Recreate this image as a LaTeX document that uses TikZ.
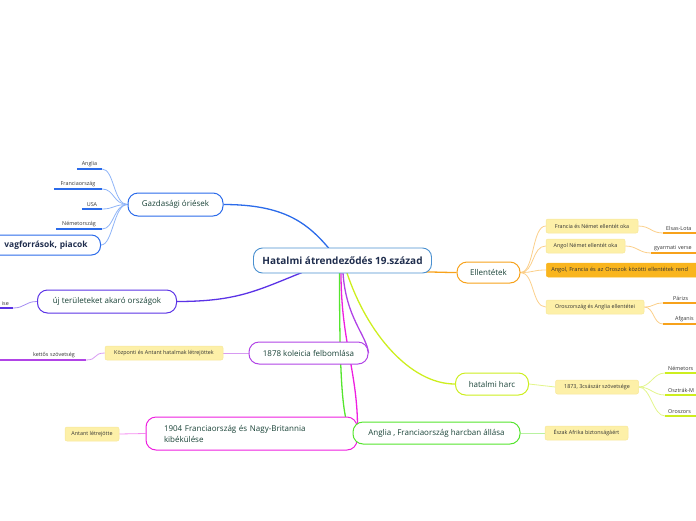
\documentclass[tikz,border=0pt]{standalone}
\usepackage{fontspec}
\setmainfont{Open Sans}
\usetikzlibrary{backgrounds}
\definecolor{hubB}{HTML}{4A90D0}
\definecolor{blueC}{HTML}{2B6BEA}
\definecolor{blueL}{HTML}{8FB4F7}
\definecolor{violetC}{HTML}{5B33E6}
\definecolor{violetL}{HTML}{A48CF2}
\definecolor{purpC}{HTML}{B144E6}
\definecolor{purpL}{HTML}{D79AF2}
\definecolor{magC}{HTML}{EE1FE0}
\definecolor{magL}{HTML}{F58CF0}
\definecolor{greenC}{HTML}{55E52E}
\definecolor{greenL}{HTML}{B8F2A0}
\definecolor{ygC}{HTML}{CDEE1F}
\definecolor{ygL}{HTML}{E2F58A}
\definecolor{orC}{HTML}{F7A21B}
\definecolor{orL}{HTML}{FBCF8A}
\definecolor{yFill}{HTML}{FDF0A8}
\definecolor{yDraw}{HTML}{F7E79A}
\definecolor{oFill}{HTML}{F9B51E}
\definecolor{txtA}{HTML}{1F2D4D}
\definecolor{txtB}{HTML}{1A4338}
\definecolor{txtC}{HTML}{333333}
\begin{document}
\begin{tikzpicture}[x=1pt,y=-1pt,
  hubbox/.style={draw=hubB, line width=0.9pt, rounded corners=9pt, fill=white, minimum width=178pt, minimum height=25pt, font=\fontsize{10}{12}\selectfont\bfseries, text=txtA, inner sep=0pt},
  mainbox/.style={line width=1pt, rounded corners=10pt, fill=white, inner sep=0pt, font=\fontsize{8}{11}\selectfont, text=txtB},
  ybox/.style={fill=yFill, draw=yDraw, line width=0.5pt, rounded corners=2pt, minimum height=14pt, inner sep=0pt, font=\fontsize{5.4}{6}\selectfont, text=txtC},
  leaf/.style={inner xsep=0pt, inner ysep=2.5pt, font=\fontsize{5.4}{6}\selectfont, text=txtC},
  conn/.style={line width=1.3pt},
  subconn/.style={line width=0.8pt},
  uline/.style={line width=1.4pt}]
\useasboundingbox (0,0) rectangle (696,520);
\clip (0,0) rectangle (696,520);
% central
\node[hubbox] (hub) at (342.5,260.5) {Hatalmi átrendeződés 19.század};
% first level
\node[mainbox, draw=blueC, minimum width=95pt, minimum height=23pt] (gaz) at (175.5,204.5) {Gazdasági óriések};
\node[mainbox, draw=blueC, rounded corners=9pt, minimum height=20pt, inner xsep=13pt, text width=100pt, align=right, anchor=east, font=\fontsize{8.4}{10}\selectfont\bfseries, text=txtA] (nyers) at (101,245) {vagforrások, piacok};
\node[mainbox, draw=violetC, minimum width=139pt, minimum height=23pt] (ujter) at (107,301.5) {új területeket akaró országok};
\node[mainbox, draw=purpC, minimum width=119pt, minimum height=22pt] (k1878) at (308.5,353) {1878 koleicia felbomlása};
\node[mainbox, draw=magC, minimum width=211pt, minimum height=33pt, text width=175pt, align=left] (k1904) at (251.5,433.5) {1904 Franciaország és Nagy-Britannia\\kibékülése};
\node[mainbox, draw=greenC, minimum width=167pt, minimum height=22pt] (angl) at (436.5,433) {Anglia , Franciaország harcban állása};
\node[mainbox, draw=ygC, minimum width=73pt, minimum height=22pt] (harc) at (492,384) {hatalmi harc};
\node[mainbox, draw=orC, minimum width=63pt, minimum height=21pt] (ell) at (488.5,272.5) {Ellentétek};
% yellow boxes
\node[ybox, minimum width=118pt] (kozp) at (164,353) {Központi és Antant hatalmak létrejöttek};
\node[ybox, minimum width=54pt] (antant) at (92,434) {Antant létrejötte};
\node[ybox, minimum width=83pt] (eszak) at (586.5,433) {Észak Afrika biztonságáért};
\node[ybox, minimum width=83pt] (cs1873) at (597,387) {1873, 3császár szövetsége};
\node[ybox, minimum width=92pt] (fr) at (592,226) {Francia és Német ellentét oka};
\node[ybox, minimum width=79pt] (an) at (585.5,246) {Angol Német ellentét oka};
\node[ybox, fill=oFill, draw=oFill, anchor=west, inner xsep=5pt, text width=150pt, align=left, font=\fontsize{5.6}{7}\selectfont] (afo) at (546,270) {Angol, Francia és az Oroszok közötti ellentétek rend};
\node[ybox, minimum width=98pt] (or) at (595,307) {Oroszország és Anglia ellentétei};
% leaves left
\node[leaf, anchor=south, minimum width=25pt] (lAng) at (89.5,169) {Anglia};
\node[leaf, anchor=south, minimum width=48pt] (lFra) at (78,189) {Franciaország};
\node[leaf, anchor=south, minimum width=20pt] (lUSA) at (92,209) {USA};
\node[leaf, anchor=south, minimum width=46pt] (lNem) at (79,229) {Németország};
\node[leaf, anchor=south east, text width=20pt, align=right, inner xsep=4pt] (lise) at (13,308) {ise};
\node[leaf, anchor=south east, text width=70pt, align=right, inner xsep=11pt] (lket) at (86,360) {kettős szövetség};
% leaves right
\node[leaf, anchor=south west, text width=30pt, align=left, inner xsep=3pt] (lEls) at (663,233) {Elsas-Lota};
\node[leaf, anchor=south west, text width=42pt, align=left, inner xsep=3pt] (lGya) at (651,253) {gyarmati verse};
\node[leaf, anchor=south west, text width=23pt, align=left, inner xsep=10pt] (lPar) at (663,303) {Párizs};
\node[leaf, anchor=south west, text width=21pt, align=left, inner xsep=12pt] (lAfg) at (663,324) {Afganis};
\node[leaf, anchor=south west, text width=26pt, align=left, inner xsep=3pt] (lNm) at (665,373) {Németors};
\node[leaf, anchor=south west, text width=26pt, align=left, inner xsep=3pt] (lOsz) at (665,395) {Osztrák-M};
\node[leaf, anchor=south west, text width=26pt, align=left, inner xsep=3pt] (lOr) at (665,416) {Oroszors};
% hub anchor points
\coordinate (hg) at (329,248.5);
\coordinate (hu) at (302,272.5);
\coordinate (h3) at (343,273);
\coordinate (h4) at (341,273);
\coordinate (h5) at (339.5,273);
\coordinate (h6) at (347,273);
\coordinate (h7) at (426,272);
\begin{scope}[on background layer]
% main connectors
\draw[conn, blueC] (hg) .. controls +(-22,-26) and +(60,0) .. (gaz.east);
\draw[conn, violetC] (hu) .. controls +(-45,18) and +(60,0) .. (ujter.east);
\draw[conn, purpC] (h3) .. controls +(3,45) and +(-2,-18) .. (k1878.east);
\draw[conn, magC] (h4) .. controls +(0,70) and +(1,-60) .. (k1904.east);
\draw[conn, greenC] (h5) .. controls +(0,110) and +(-10,-8) .. (angl.west);
\draw[conn, ygC] (h6) .. controls +(20,60) and +(-45,0) .. (harc.west);
\draw[conn, orC] (h7) .. controls +(12,0) and +(-12,0) .. (ell.west);
% gaz branch
\foreach \t in {lAng,lFra,lUSA,lNem} {
  \draw[subconn, blueL] (gaz.west) .. controls +(-14,0) and +(12,0) .. (\t.south east);
  \draw[uline, blueC] (\t.south west) -- (\t.south east);
}
\draw[subconn, blueL] (gaz.west) .. controls +(-14,0) and +(12,0) .. (nyers.east);
% ujter branch
\draw[subconn, violetL] (ujter.west) .. controls +(-12,0) and +(12,0) .. (lise.south east);
\draw[uline, violetC] (lise.south west) -- (lise.south east);
% 1878 branch
\draw[subconn, purpL] (k1878.west) -- (kozp.east);
\draw[subconn, purpL] (kozp.west) .. controls +(-12,0) and +(12,0) .. (lket.south east);
\draw[uline, purpC] (lket.south west) -- (lket.south east);
% 1904 branch
\draw[subconn, magL] (k1904.west) -- (antant.east);
% angl branch
\draw[subconn, greenL] (angl.east) -- (eszak.west);
% harc branch
\draw[subconn, ygL] (harc.east) -- (cs1873.west);
\foreach \t in {lNm,lOsz,lOr} {
  \draw[subconn, ygL] (cs1873.east) .. controls +(12,0) and +(-12,0) .. (\t.south west);
  \draw[uline, ygC] (\t.south west) -- (\t.south east);
}
% ellentetek branch
\foreach \t in {fr,an,afo,or} {
  \draw[subconn, orL] (ell.east) .. controls +(14,0) and +(-14,0) .. (\t.west);
}
\draw[subconn, orL] (fr.east) .. controls +(12,0) and +(-12,0) .. (lEls.south west);
\draw[subconn, orL] (an.east) .. controls +(12,0) and +(-12,0) .. (lGya.south west);
\draw[subconn, orL] (or.east) .. controls +(10,0) and +(-10,0) .. (lPar.south west);
\draw[subconn, orL] (or.east) .. controls +(10,0) and +(-10,0) .. (lAfg.south west);
\foreach \t in {lEls,lGya,lPar,lAfg} {
  \draw[uline, orC] (\t.south west) -- (\t.south east);
}
\end{scope}
\end{tikzpicture}
\end{document}
